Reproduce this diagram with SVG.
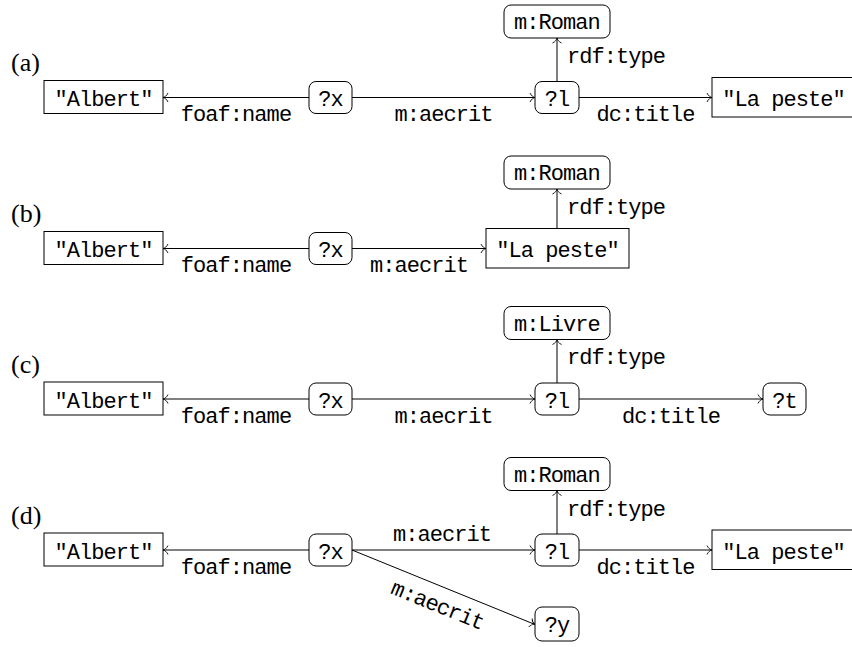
<svg xmlns="http://www.w3.org/2000/svg" width="852" height="647" viewBox="0 0 852 647">
  <style>
    .box { fill: #fff; stroke: #000; stroke-width: 1; }
    .edge { fill: none; stroke: #000; stroke-width: 1; marker-end: url(#to); }
    .t { font-family: "Liberation Mono", "DejaVu Sans Mono", monospace; font-size: 22px; letter-spacing: -0.95px; fill: #000; }
    .m { text-anchor: middle; }
    .tag { font-family: "Liberation Serif", "DejaVu Serif", serif; font-size: 26px; fill: #000; }
  </style>
  <defs>
    <marker id="to" markerUnits="userSpaceOnUse" viewBox="-7 -6 8 12" markerWidth="8" markerHeight="12" refX="0" refY="0" orient="auto" overflow="visible">
      <path d="M-5,-4.5 C-3.6,-1.6 -1.6,-0.3 0,0 C-1.6,0.3 -3.6,1.6 -5,4.5" fill="none" stroke="#000" stroke-width="0.9"/>
    </marker>
  </defs>

  <!-- (a) -->
  <g id="panel-a">
    <text class="tag" x="11" y="71">(a)</text>
    <g id="connectors-a">
      <line class="edge" x1="309" y1="97.5" x2="163" y2="97.5"/>
      <line class="edge" x1="352" y1="97.5" x2="535" y2="97.5"/>
      <line class="edge" x1="557" y1="81.5" x2="557" y2="38"/>
      <line class="edge" x1="579" y1="97.5" x2="712" y2="97.5"/>
      <text class="t m" x="236" y="121">foaf:name</text>
      <text class="t m" x="443.5" y="121">m:aecrit</text>
      <text class="t" x="567" y="62.5">rdf:type</text>
      <text class="t m" x="645.5" y="121">dc:title</text>
    </g>
    <g id="a-albert"><rect class="box" x="44" y="80.5" width="119" height="33"/><text class="t m" x="103.5" y="106">"Albert"</text></g>
    <g id="a-x"><rect class="box" x="309" y="81.5" width="43" height="32" rx="7"/><text class="t m" x="330.5" y="106">?x</text></g>
    <g id="a-l"><rect class="box" x="535" y="81.5" width="44" height="32" rx="7"/><text class="t m" x="557" y="106">?l</text></g>
    <g id="a-roman"><rect class="box" x="504" y="5" width="106" height="33" rx="7"/><text class="t m" x="557" y="29">m:Roman</text></g>
    <g id="a-peste"><rect class="box" x="712" y="77.5" width="143" height="39.5"/><text class="t m" x="783.5" y="106">"La peste"</text></g>
  </g>

  <!-- (b) -->
  <g id="panel-b" transform="translate(0,151)">
    <text class="tag" x="11" y="71">(b)</text>
    <g id="connectors-b">
      <line class="edge" x1="309" y1="97.5" x2="163" y2="97.5"/>
      <line class="edge" x1="352" y1="97.5" x2="486" y2="97.5"/>
      <line class="edge" x1="557" y1="77.5" x2="557" y2="38"/>
      <text class="t m" x="236" y="121">foaf:name</text>
      <text class="t m" x="419" y="121">m:aecrit</text>
      <text class="t" x="567" y="62.5">rdf:type</text>
    </g>
    <g id="b-albert"><rect class="box" x="44" y="80.5" width="119" height="33"/><text class="t m" x="103.5" y="106">"Albert"</text></g>
    <g id="b-x"><rect class="box" x="309" y="81.5" width="43" height="32" rx="7"/><text class="t m" x="330.5" y="106">?x</text></g>
    <g id="b-roman"><rect class="box" x="504" y="5" width="106" height="33" rx="7"/><text class="t m" x="557" y="29">m:Roman</text></g>
    <g id="b-peste"><rect class="box" x="486" y="77.5" width="143" height="39.5"/><text class="t m" x="557.5" y="106">"La peste"</text></g>
  </g>

  <!-- (c) -->
  <g id="panel-c" transform="translate(0,301.5)">
    <text class="tag" x="11" y="71">(c)</text>
    <g id="connectors-c">
      <line class="edge" x1="309" y1="97.5" x2="163" y2="97.5"/>
      <line class="edge" x1="352" y1="97.5" x2="535" y2="97.5"/>
      <line class="edge" x1="557" y1="81.5" x2="557" y2="38"/>
      <line class="edge" x1="579" y1="97.5" x2="763" y2="97.5"/>
      <text class="t m" x="236" y="121">foaf:name</text>
      <text class="t m" x="443.5" y="121">m:aecrit</text>
      <text class="t" x="567" y="62.5">rdf:type</text>
      <text class="t m" x="671" y="121">dc:title</text>
    </g>
    <g id="c-albert"><rect class="box" x="44" y="80.5" width="119" height="33"/><text class="t m" x="103.5" y="106">"Albert"</text></g>
    <g id="c-x"><rect class="box" x="309" y="81.5" width="43" height="32" rx="7"/><text class="t m" x="330.5" y="106">?x</text></g>
    <g id="c-l"><rect class="box" x="535" y="81.5" width="44" height="32" rx="7"/><text class="t m" x="557" y="106">?l</text></g>
    <g id="c-livre"><rect class="box" x="504" y="5" width="106" height="33" rx="7"/><text class="t m" x="557" y="29">m:Livre</text></g>
    <g id="c-t"><rect class="box" x="763" y="81.5" width="43" height="32" rx="7"/><text class="t m" x="784.5" y="106">?t</text></g>
  </g>

  <!-- (d) -->
  <g id="panel-d" transform="translate(0,452.5)">
    <text class="tag" x="11" y="71">(d)</text>
    <g id="connectors-d">
      <line class="edge" x1="309" y1="97.5" x2="163" y2="97.5"/>
      <line class="edge" x1="352" y1="97.5" x2="535" y2="97.5"/>
      <line class="edge" x1="352" y1="97.5" x2="535" y2="172"/>
      <line class="edge" x1="557" y1="81.5" x2="557" y2="38"/>
      <line class="edge" x1="579" y1="97.5" x2="712" y2="97.5"/>
      <text class="t m" x="236" y="121">foaf:name</text>
      <text class="t m" x="442" y="88.5">m:aecrit</text>
      <text class="t m" x="435" y="159" transform="rotate(22.15 435 159)">m:aecrit</text>
      <text class="t" x="567" y="63">rdf:type</text>
      <text class="t m" x="645.5" y="121">dc:title</text>
    </g>
    <g id="d-albert"><rect class="box" x="44" y="80.5" width="119" height="33"/><text class="t m" x="103.5" y="106">"Albert"</text></g>
    <g id="d-x"><rect class="box" x="309" y="81.5" width="43" height="32" rx="7"/><text class="t m" x="330.5" y="106">?x</text></g>
    <g id="d-l"><rect class="box" x="535" y="81.5" width="44" height="32" rx="7"/><text class="t m" x="557" y="106">?l</text></g>
    <g id="d-y"><rect class="box" x="535" y="154.5" width="44" height="34" rx="7"/><text class="t m" x="557" y="179">?y</text></g>
    <g id="d-roman"><rect class="box" x="504" y="5" width="106" height="33" rx="7"/><text class="t m" x="557" y="29">m:Roman</text></g>
    <g id="d-peste"><rect class="box" x="712" y="77.5" width="143" height="39.5"/><text class="t m" x="783.5" y="106">"La peste"</text></g>
  </g>
</svg>
